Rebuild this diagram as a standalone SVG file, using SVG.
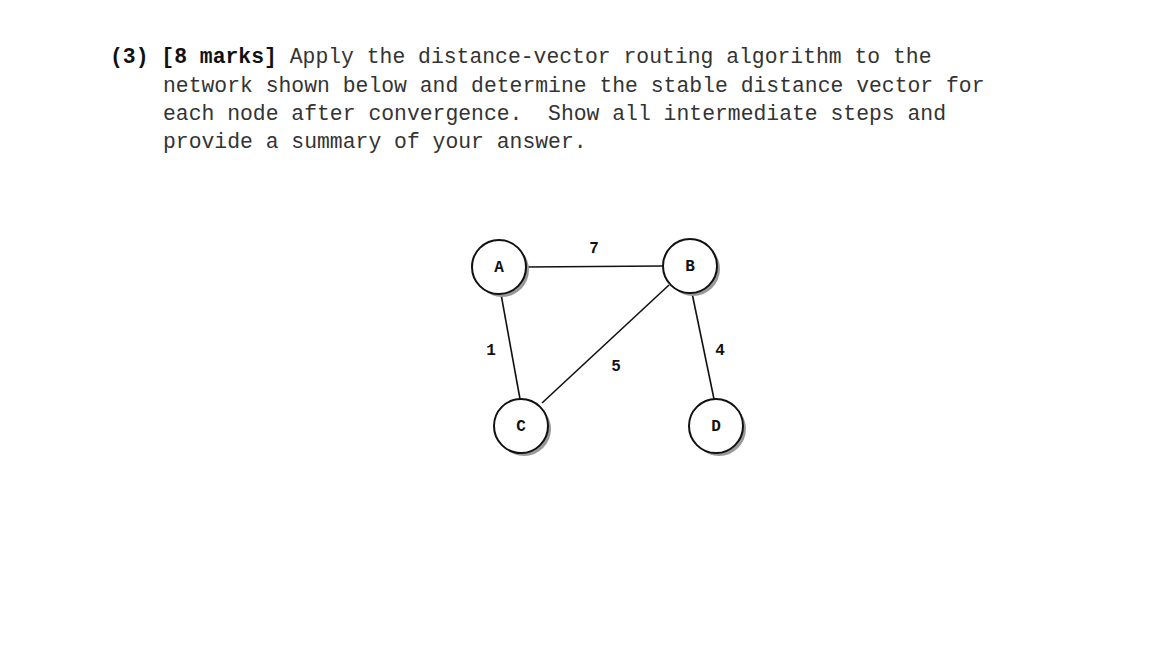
<svg xmlns="http://www.w3.org/2000/svg" width="1152" height="648" viewBox="0 0 1152 648">
<style>
.t{font-family:"Liberation Mono",monospace;font-size:21.4px;fill:#333}
.b{font-weight:bold;fill:#111}
.n circle.s{fill:#999}
.n circle.c{fill:#fff;stroke:#111;stroke-width:2}
.n text,.l{font-family:"Liberation Mono",monospace;font-size:16px;font-weight:bold;fill:#111;text-anchor:middle}
.e line{stroke:#111;stroke-width:1.6}
</style>
<rect width="1152" height="648" fill="#fff"/>
<text class="t" x="110" y="63"><tspan class="b">(3) [8 marks]</tspan> Apply the distance-vector routing algorithm to the</text>
<text class="t" x="163" y="92">network shown below and determine the stable distance vector for</text>
<text class="t" x="163" y="120" xml:space="preserve">each node after convergence.  Show all intermediate steps and</text>
<text class="t" x="163" y="148">provide a summary of your answer.</text>
<g id="connectors" class="e">
<line x1="526" y1="267" x2="663" y2="266"/>
<line x1="501" y1="294" x2="520" y2="399"/>
<line x1="669" y1="285" x2="542" y2="403"/>
<line x1="692" y1="293" x2="714" y2="399"/>
</g>
<text class="l" x="594" y="253">7</text>
<text class="l" x="491" y="355">1</text>
<text class="l" x="616" y="371">5</text>
<text class="l" x="720" y="355">4</text>
<g id="A" class="n"><circle class="s" cx="502" cy="270" r="27"/><circle class="c" cx="499" cy="267" r="27"/><text x="499" y="272">A</text></g>
<g id="B" class="n"><circle class="s" cx="693" cy="269" r="27"/><circle class="c" cx="690" cy="266" r="27"/><text x="690" y="271">B</text></g>
<g id="C" class="n"><circle class="s" cx="524" cy="429" r="27"/><circle class="c" cx="521" cy="426" r="27"/><text x="521" y="431">C</text></g>
<g id="D" class="n"><circle class="s" cx="719" cy="429" r="27"/><circle class="c" cx="716" cy="426" r="27"/><text x="716" y="431">D</text></g>
</svg>
